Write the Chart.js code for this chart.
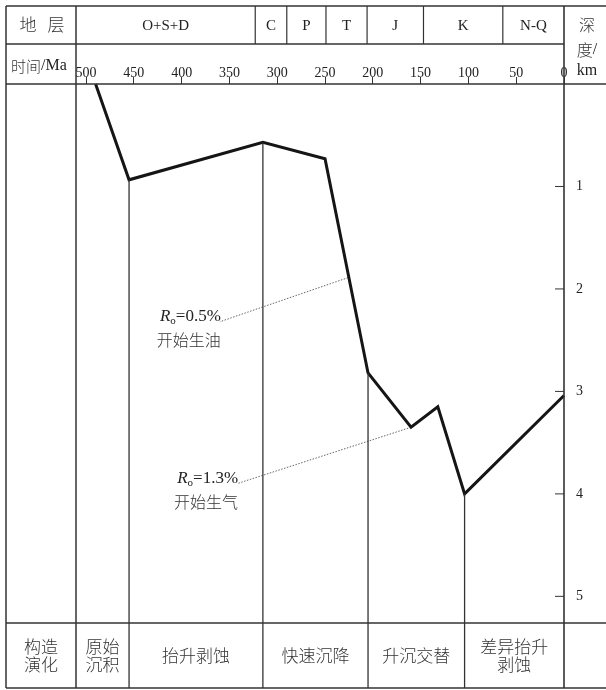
<!DOCTYPE html>
<html>
<head>
<meta charset="utf-8">
<script src="https://cdn.jsdelivr.net/npm/chart.js@4/dist/chart.umd.min.js"></script>
<style>
  html, body { margin: 0; padding: 0; background: #fff; }
  #wrap { width: 606px; height: 690px; }
</style>
</head>
<body>
<div id="wrap"><canvas id="burial" width="606" height="690"></canvas></div>
<script>
// Burial history: age (Ma) vs burial depth (km)
const ageTicks = [500, 450, 400, 350, 300, 250, 200, 150, 100, 50, 0];
const depthTicks = [1, 2, 3, 4, 5];

const burialAgeMa   = [490, 455, 315, 250, 205, 160, 132, 104, 0];
const burialDepthKm = [0, 0.935, 0.57, 0.73, 2.82, 3.35, 3.15, 4.0, 3.04];

// Stratigraphic units (header row) and the ages separating them
const strataNames = ['O+S+D', 'C', 'P', 'T', 'J', 'K', 'N-Q'];
const strataBoundsMa = [323, 290, 249, 206, 147, 64];

// Tectonic evolution stages (footer row) and the ages separating them
const stageNames = [['原始', '沉积'], ['抬升剥蚀'], ['快速沉降'], ['升沉交替'], ['差异抬升', '剥蚀']];
const stageBoundsMa = [455, 315, 205, 104];

// Vitrinite reflectance markers: leader line from the curve to the label
const oilLeaderAge   = [226, 360];
const oilLeaderDepth = [1.89, 2.32];
const oilLabel = ['0.5%', '开始生油'];

const gasLeaderAge   = [160, 342];
const gasLeaderDepth = [3.35, 3.90];
const gasLabel = ['1.3%', '开始生气'];

const AGE_MAX = 510.5;
const DEPTH_MAX = 5.26;

const SERIF = '"Liberation Serif", "DejaVu Serif", serif';
const CJK = '"Noto Sans CJK SC", "Noto Sans CJK TC", sans-serif';
const INK = '#222';
const CJK_INK = '#333';
const RULE = '#333';

function drawRuns(ctx, runs, x, y, align) {
  let w = 0;
  runs.forEach(r => { ctx.font = r.font; r.w = ctx.measureText(r.t).width; w += r.w; });
  let cx = align === 'right' ? x - w : (align === 'center' ? x - w / 2 : x);
  ctx.textAlign = 'left';
  ctx.textBaseline = 'middle';
  runs.forEach(r => {
    ctx.font = r.font;
    ctx.fillStyle = r.color || INK;
    ctx.fillText(r.t, cx, y + (r.dy || 0));
    cx += r.w;
  });
}

const cjk = (t, size) => ({ t, font: `300 ${size}px ${CJK}`, color: CJK_INK });

function line(ctx, x1, y1, x2, y2) {
  ctx.beginPath();
  ctx.moveTo(x1, y1);
  ctx.lineTo(x2, y2);
  ctx.stroke();
}

const frame = {
  id: 'frame',
  afterDraw(chart) {
    const ctx = chart.ctx;
    const a = chart.chartArea;
    const xs = chart.scales.x, ys = chart.scales.y;
    const L = 6, T = 6, R = chart.width, B = 688;
    const rowY = a.top - 40;

    ctx.save();
    ctx.strokeStyle = RULE;
    ctx.lineWidth = 1.5;
    // outer frame and row rules
    line(ctx, L, T, R, T);
    line(ctx, L, B, R, B);
    line(ctx, L, T, L, B);
    line(ctx, L, rowY, a.right, rowY);
    line(ctx, L, a.top, R, a.top);
    line(ctx, L, a.bottom, R, a.bottom);
    line(ctx, a.left, T, a.left, B);
    ctx.lineWidth = 1.6;
    line(ctx, a.right, T, a.right, B);

    // strata dividers in the header row
    ctx.lineWidth = 1.2;
    strataBoundsMa.forEach(t => {
      const px = xs.getPixelForValue(t);
      line(ctx, px, T, px, rowY);
    });

    // stage dividers, dropped from the curve vertices to the bottom
    ctx.lineWidth = 1.3;
    stageBoundsMa.forEach(t => {
      const i = burialAgeMa.indexOf(t);
      const px = xs.getPixelForValue(t);
      const py = ys.getPixelForValue(burialDepthKm[i]);
      line(ctx, px, py, px, B);
    });

    // inward depth tick marks
    ctx.lineWidth = 1;
    ys.ticks.forEach(tk => {
      const py = ys.getPixelForValue(tk.value);
      line(ctx, a.right - 9, py, a.right, py);
    });

    // header row 1
    const hy = (T + rowY) / 2;
    drawRuns(ctx, [cjk('地', 17)], 28, hy, 'center');
    drawRuns(ctx, [cjk('层', 17)], 56, hy, 'center');
    const edges = [AGE_MAX, ...strataBoundsMa, 0];
    strataNames.forEach((n, i) => {
      const cx = (xs.getPixelForValue(edges[i]) + xs.getPixelForValue(edges[i + 1])) / 2;
      drawRuns(ctx, [{ t: n, font: `15px ${SERIF}` }], cx, hy + 1, 'center');
    });
    // header row 2 label
    drawRuns(ctx, [cjk('时间', 15), { t: '/Ma', font: `16px ${SERIF}` }], 11, 66, 'left');
    // depth axis title
    const rx = (a.right + R) / 2 + 2;
    drawRuns(ctx, [cjk('深', 16)], rx, 25, 'center');
    drawRuns(ctx, [cjk('度', 16), { t: '/', font: `16px ${SERIF}` }], rx, 50, 'center');
    drawRuns(ctx, [{ t: 'km', font: `16px ${SERIF}` }], rx, 71, 'center');

    // footer row
    const fy = (a.bottom + B) / 2;
    const drawCell = (lines, cx) => {
      if (lines.length === 1) {
        drawRuns(ctx, [cjk(lines[0], 17)], cx, fy, 'center');
      } else {
        drawRuns(ctx, [cjk(lines[0], 17)], cx, fy - 9, 'center');
        drawRuns(ctx, [cjk(lines[1], 17)], cx, fy + 9, 'center');
      }
    };
    drawCell(['构造', '演化'], (L + a.left) / 2);
    const sEdges = [AGE_MAX, ...stageBoundsMa, 0];
    stageNames.forEach((n, i) => {
      const cx = (xs.getPixelForValue(sEdges[i]) + xs.getPixelForValue(sEdges[i + 1])) / 2;
      drawCell(n, cx);
    });

    // Ro labels at the leader ends
    const roLabel = (ages, depths, lbl) => {
      const ex = xs.getPixelForValue(ages[1]) + 1;
      const ey = ys.getPixelForValue(depths[1]);
      drawRuns(ctx, [
        { t: 'R', font: `italic 17px ${SERIF}` },
        { t: 'o', font: `11px ${SERIF}`, dy: 4 },
        { t: '=' + lbl[0], font: `17px ${SERIF}` }
      ], ex, ey - 5, 'right');
      drawRuns(ctx, [cjk(lbl[1], 16)], ex, ey + 18, 'right');
    };
    roLabel(oilLeaderAge, oilLeaderDepth, oilLabel);
    roLabel(gasLeaderAge, gasLeaderDepth, gasLabel);
    ctx.restore();
  }
};

const toPts = (xsArr, ysArr) => xsArr.map((v, i) => ({ x: v, y: ysArr[i] }));

new Chart(document.getElementById('burial'), {
  type: 'line',
  data: {
    datasets: [
      {
        label: 'burial',
        data: toPts(burialAgeMa, burialDepthKm),
        borderColor: '#151515',
        borderWidth: 3,
        pointRadius: 0,
        tension: 0,
        borderJoinStyle: 'miter',
        clip: false
      },
      {
        label: 'oil',
        data: toPts(oilLeaderAge, oilLeaderDepth),
        borderColor: '#555',
        borderWidth: 0.9,
        borderDash: [1.5, 1.5],
        pointRadius: 0,
        tension: 0
      },
      {
        label: 'gas',
        data: toPts(gasLeaderAge, gasLeaderDepth),
        borderColor: '#555',
        borderWidth: 0.9,
        borderDash: [1.5, 1.5],
        pointRadius: 0,
        tension: 0
      }
    ]
  },
  options: {
    responsive: false,
    animation: false,
    devicePixelRatio: 1,
    layout: { padding: { left: 76, top: 44, right: 0, bottom: 67 } },
    plugins: { legend: { display: false }, tooltip: { enabled: false } },
    scales: {
      x: {
        type: 'linear',
        position: 'top',
        reverse: true,
        min: 0,
        max: AGE_MAX,
        afterBuildTicks: s => { s.ticks = ageTicks.map(v => ({ value: v })); },
        afterFit: s => { s.height = 40; },
        grid: { drawOnChartArea: false, drawTicks: true, tickLength: 7, color: RULE, lineWidth: 1 },
        border: { display: false },
        ticks: {
          font: { family: SERIF, size: 14 },
          color: INK,
          padding: -5,
          maxRotation: 0,
          autoSkip: false,
          callback: v => String(v)
        }
      },
      y: {
        type: 'linear',
        position: 'right',
        reverse: true,
        min: 0,
        max: DEPTH_MAX,
        afterBuildTicks: s => { s.ticks = depthTicks.map(v => ({ value: v })); },
        afterFit: s => { s.width = 42; },
        grid: { display: false, drawTicks: false },
        border: { display: false },
        ticks: {
          font: { family: SERIF, size: 14 },
          color: INK,
          padding: 12,
          callback: v => String(v)
        }
      }
    }
  },
  plugins: [frame]
});
</script>
</body>
</html>
